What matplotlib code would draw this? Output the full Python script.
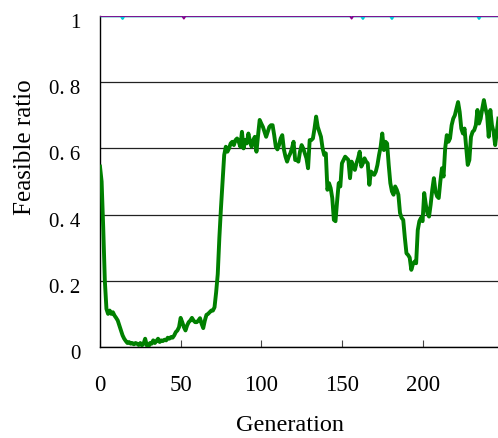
import matplotlib
matplotlib.use("Agg")
import matplotlib.pyplot as plt
import matplotlib.transforms as mtransforms
import numpy as np

plt.rcParams['font.family'] = ['Liberation Serif', 'DejaVu Serif']

# feasible ratio of the green run, one value per generation (0..247)
feasible_ratio = [
    0.545, 0.50, 0.36, 0.20, 0.115, 0.10, 0.11, 0.10, 0.105, 0.095,
    0.088, 0.08, 0.065, 0.05, 0.035, 0.025, 0.018, 0.012, 0.015, 0.01,
    0.012, 0.008, 0.012, 0.01, 0.006, 0.012, 0.005, 0.01, 0.025, 0.005,
    0.0, 0.012, 0.01, 0.02, 0.012, 0.018, 0.025, 0.015, 0.02, 0.018,
    0.022, 0.02, 0.028, 0.025, 0.03, 0.028, 0.035, 0.045, 0.05, 0.06,
    0.088, 0.075, 0.06, 0.05, 0.065, 0.075, 0.08, 0.088, 0.08, 0.075,
    0.075, 0.08, 0.087, 0.07, 0.057, 0.08, 0.097, 0.10, 0.105, 0.11,
    0.11, 0.12, 0.165, 0.22, 0.33, 0.42, 0.50, 0.58, 0.605, 0.59,
    0.60, 0.615, 0.62, 0.61, 0.625, 0.63, 0.62, 0.605, 0.65, 0.60,
    0.625, 0.615, 0.645, 0.62, 0.605, 0.625, 0.635, 0.59, 0.64, 0.686,
    0.675, 0.665, 0.65, 0.635, 0.65, 0.665, 0.67, 0.67, 0.64, 0.605,
    0.597, 0.61, 0.63, 0.64, 0.597, 0.575, 0.56, 0.575, 0.585, 0.60,
    0.62, 0.565, 0.565, 0.56, 0.59, 0.61, 0.60, 0.585, 0.57, 0.54,
    0.625, 0.625, 0.63, 0.66, 0.696, 0.665, 0.65, 0.635, 0.60, 0.58,
    0.585, 0.475, 0.495, 0.48, 0.45, 0.384, 0.38, 0.44, 0.495, 0.485,
    0.555, 0.565, 0.575, 0.57, 0.565, 0.51, 0.56, 0.545, 0.535, 0.555,
    0.57, 0.59, 0.545, 0.555, 0.57, 0.56, 0.555, 0.49, 0.53, 0.525,
    0.52, 0.53, 0.55, 0.58, 0.605, 0.645, 0.595, 0.62, 0.615, 0.55,
    0.495, 0.47, 0.46, 0.485, 0.475, 0.46, 0.405, 0.39, 0.384, 0.33,
    0.283, 0.278, 0.27, 0.233, 0.25, 0.258, 0.253, 0.353, 0.38, 0.39,
    0.38, 0.465, 0.43, 0.404, 0.394, 0.43, 0.475, 0.51, 0.47, 0.455,
    0.45, 0.50, 0.54, 0.515, 0.60, 0.64, 0.62, 0.63, 0.67, 0.69,
    0.70, 0.72, 0.74, 0.71, 0.66, 0.645, 0.66, 0.605, 0.55, 0.565,
    0.635, 0.65, 0.655, 0.67, 0.716, 0.675, 0.69, 0.72, 0.746, 0.72,
    0.70, 0.635, 0.716, 0.67, 0.65, 0.61, 0.65, 0.69,
]
generations = np.arange(len(feasible_ratio))

# the two runs that stay feasible, with the generations where they dip
cyan_dips = [14, 163, 181, 235]
purple_dips = [52, 156]
dip_value = 0.992

cyan_ratio = np.ones(len(generations))
cyan_ratio[cyan_dips] = dip_value
purple_ratio = np.ones(len(generations))
purple_ratio[purple_dips] = dip_value

yticks = [0, 0.2, 0.4, 0.6, 0.8, 1.0]
ytick_labels = ['0', '0. 2', '0. 4', '0. 6', '0. 8', '1']
xticks = [0, 50, 100, 150, 200]

fig = plt.figure(figsize=(4.98, 4.38), dpi=100)
ax = fig.add_axes([0.2008, 0.2078, 0.80, 0.7557])

ax.plot(generations, cyan_ratio, color='#00c8d8', lw=1.8, zorder=3)
ax.plot(generations, purple_ratio, color='#8b008b', lw=1.3, zorder=4)
ax.plot(generations, feasible_ratio, color='#008000', lw=2.8, zorder=5)

ax.set_xlim(0, 247)
ax.set_ylim(0, 1)
ax.set_yticks(yticks)
ax.set_yticklabels(ytick_labels)
ax.set_xticks(xticks)
ax.yaxis.grid(True, color='#222222', lw=0.9)
ax.set_axisbelow(True)

for s in ['top', 'right']:
    ax.spines[s].set_visible(False)
ax.spines['left'].set_linewidth(1.0)
ax.spines['bottom'].set_linewidth(1.0)

ax.tick_params(axis='x', direction='in', length=5, width=0.8, pad=20,
               labelsize=16.5, color='#444444')
ax.tick_params(axis='y', direction='in', length=0, pad=14, labelsize=15)

# y tick labels sit a little below their grid lines
shift = mtransforms.ScaledTranslation(0, -5 / 100, fig.dpi_scale_trans)
for lab in ax.get_yticklabels():
    lab.set_transform(lab.get_transform() + shift)

ax.set_xlabel('Generation', fontsize=17.5)
ax.xaxis.set_label_coords(0.477, -0.207)
ax.set_ylabel('Feasible ratio', fontsize=18)
ax.yaxis.set_label_coords(-0.16, 0.604)

fig.savefig('out.png', dpi=100)
